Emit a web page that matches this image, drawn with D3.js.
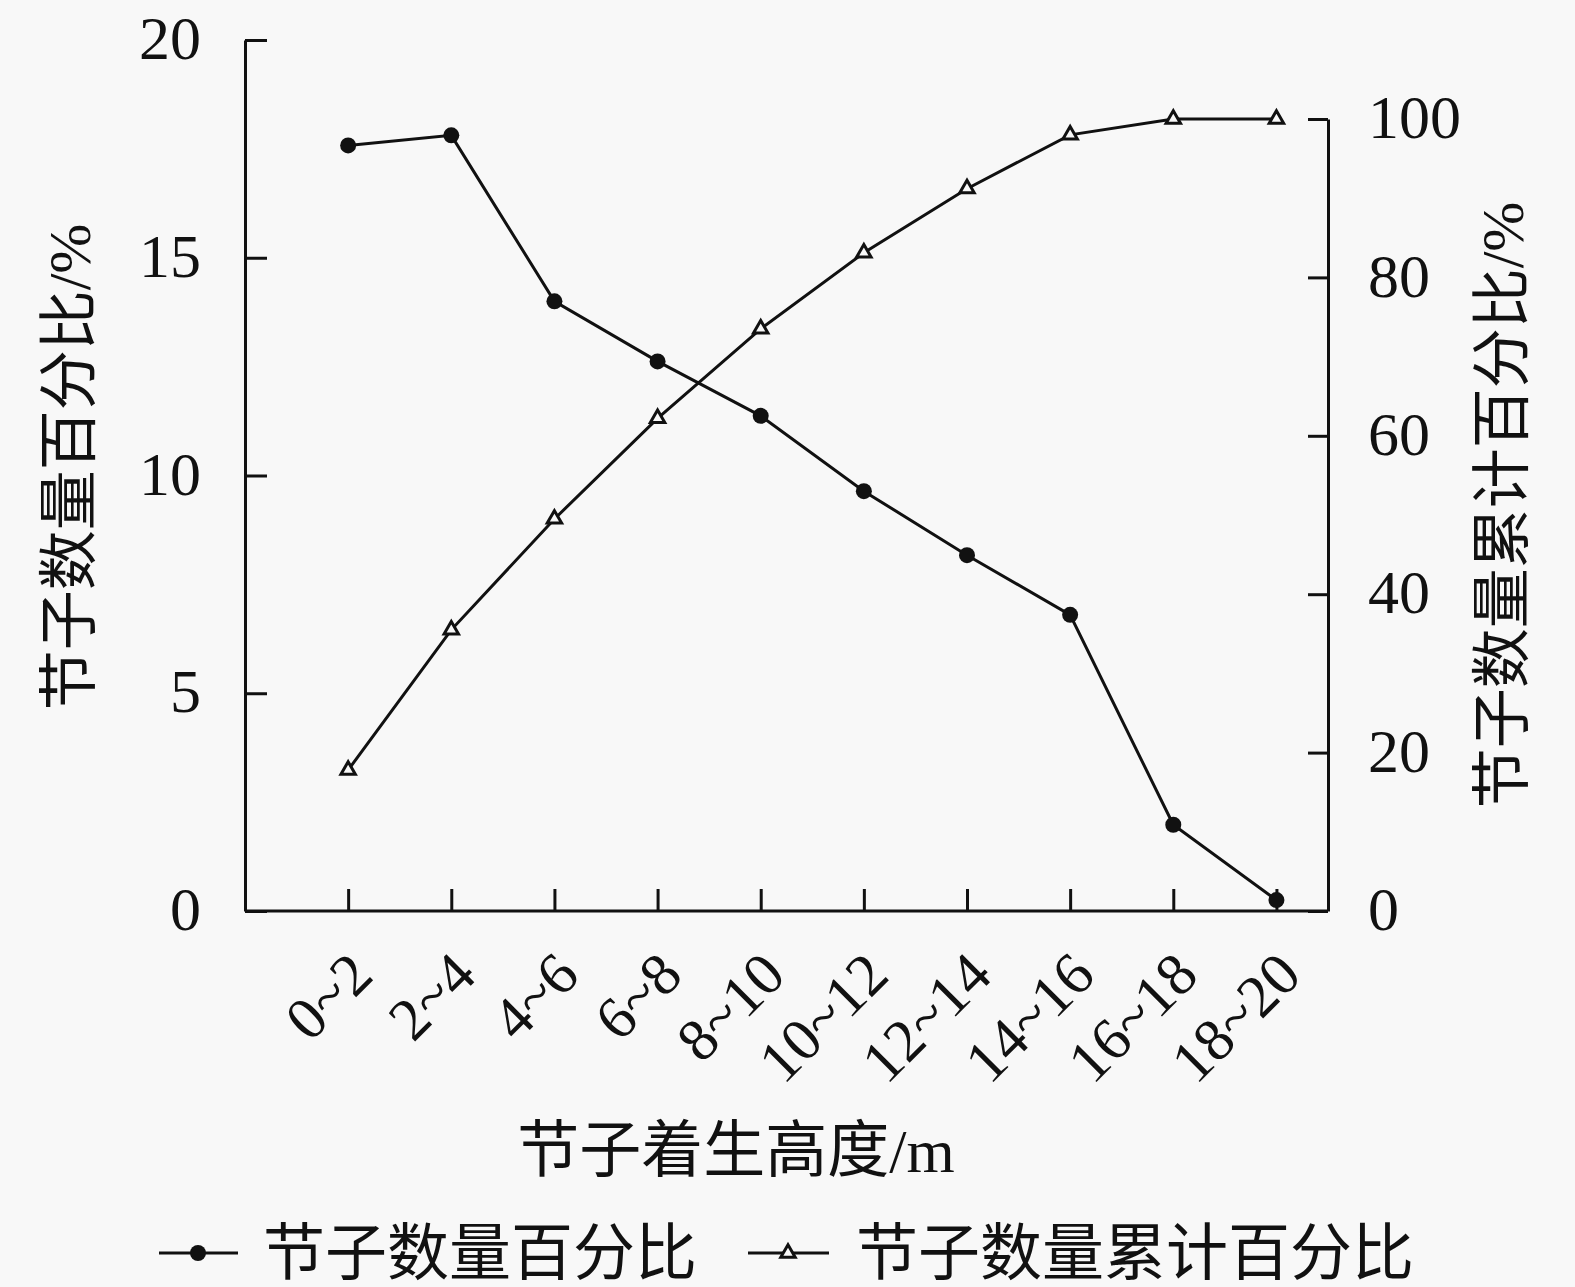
<!DOCTYPE html>
<html>
<head>
<meta charset="utf-8">
<script src="https://cdn.jsdelivr.net/npm/d3@7"></script>
<style>
  body { margin: 0; background: #f8f8f8; }
  svg { display: block; }
</style>
</head>
<body>
<div id="chart"></div>
<script>
const categories = ["0~2", "2~4", "4~6", "6~8", "8~10", "10~12", "12~14", "14~16", "16~18", "18~20"];
const percent = [17.58, 17.81, 14.0, 12.62, 11.37, 9.64, 8.17, 6.8, 1.98, 0.25];
const cumulative = [17.8, 35.5, 49.5, 62.2, 73.5, 83.1, 91.2, 98.0, 100, 100];
const leftTicks = [0, 5, 10, 15, 20];
const rightTicks = [0, 20, 40, 60, 80, 100];

const W = 1575, H = 1287;
const left = 245, right = 1328, bottom = 911;
const font = '"Liberation Serif", "Noto Sans CJK SC", serif';

const svg = d3.select("#chart").append("svg")
    .attr("width", W)
    .attr("height", H)
    .attr("font-family", font);

svg.append("rect").attr("width", W).attr("height", H).attr("fill", "#f8f8f8");

const x = d3.scaleLinear().domain([-1, 9.5]).range([left, right]);
const yL = d3.scaleLinear().domain([0, 20]).range([bottom, 40]);
const yR = d3.scaleLinear().domain([0, 100]).range([bottom, 119]);

// axes
const axisStyle = g => {
    g.attr("font-family", font).attr("font-size", 62);
    g.select(".domain").attr("stroke", "#111").attr("stroke-width", 3);
    g.selectAll(".tick line").attr("stroke", "#111").attr("stroke-width", 3);
    g.selectAll(".tick text").attr("fill", "#111");
};

svg.append("g")
    .attr("transform", `translate(${left},0)`)
    .call(d3.axisRight(yL).tickValues(leftTicks).tickSize(22).tickSizeOuter(0).tickFormat(d3.format("d")))
    .call(axisStyle)
    .call(g => g.selectAll(".tick text").attr("x", -44).attr("text-anchor", "end").attr("dy", "0.3em"));

svg.append("g")
    .attr("transform", `translate(${right},0)`)
    .call(d3.axisLeft(yR).tickValues(rightTicks).tickSize(20).tickSizeOuter(0).tickFormat(d3.format("d")))
    .call(axisStyle)
    .call(g => g.selectAll(".tick text").attr("x", 40).attr("text-anchor", "start").attr("dy", "0.3em"));

svg.append("g")
    .attr("transform", `translate(0,${bottom})`)
    .call(d3.axisTop(x).tickValues(d3.range(categories.length)).tickSize(22).tickSizeOuter(0).tickFormat(i => categories[i]))
    .call(axisStyle)
    .call(g => g.select(".domain").attr("d", `M${left},0H${right}`))
    .call(g => g.selectAll(".tick text")
        .attr("font-size", 60)
        .attr("text-anchor", "end")
        .attr("transform", "translate(12,52) rotate(-45)")
        .attr("x", 0).attr("y", 0).attr("dy", "0.35em"));

// lines
const line1 = d3.line().x((d, i) => x(i)).y(d => yL(d));
const line2 = d3.line().x((d, i) => x(i)).y(d => yR(d));

svg.append("path").datum(percent)
    .attr("d", line1).attr("fill", "none").attr("stroke", "#111").attr("stroke-width", 3);
svg.append("path").datum(cumulative)
    .attr("d", line2).attr("fill", "none").attr("stroke", "#111").attr("stroke-width", 3);

svg.selectAll(".dot").data(percent).enter().append("circle")
    .attr("class", "dot")
    .attr("cx", (d, i) => x(i))
    .attr("cy", d => yL(d))
    .attr("r", 8)
    .attr("fill", "#111");

const tri = d3.symbol().type(d3.symbolTriangle).size(90);
svg.selectAll(".tri").data(cumulative).enter().append("path")
    .attr("class", "tri")
    .attr("d", tri)
    .attr("transform", (d, i) => `translate(${x(i)},${yR(d)})`)
    .attr("fill", "#f8f8f8")
    .attr("stroke", "#111")
    .attr("stroke-width", 3);

// axis titles
svg.append("text")
    .attr("transform", "translate(90,467) rotate(-90)")
    .attr("text-anchor", "middle")
    .attr("font-size", 60)
    .attr("fill", "#111")
    .text("节子数量百分比/%");

svg.append("text")
    .attr("transform", "translate(1523,505) rotate(-90)")
    .attr("text-anchor", "middle")
    .attr("font-size", 60)
    .attr("fill", "#111")
    .text("节子数量累计百分比/%");

svg.append("text")
    .attr("x", 736)
    .attr("y", 1172)
    .attr("text-anchor", "middle")
    .attr("font-size", 62)
    .attr("fill", "#111")
    .text("节子着生高度/m");

// legend
const legend = svg.append("g").attr("transform", "translate(0,1253)");
const l1 = legend.append("g").attr("transform", "translate(159,0)");
l1.append("line").attr("x1", 0).attr("x2", 79).attr("stroke", "#111").attr("stroke-width", 3);
l1.append("circle").attr("cx", 39).attr("r", 8).attr("fill", "#111");
l1.append("text").attr("x", 104).attr("dy", "0.35em").attr("font-size", 62).attr("fill", "#111").text("节子数量百分比");

const l2 = legend.append("g").attr("transform", "translate(748,0)");
l2.append("line").attr("x1", 0).attr("x2", 81).attr("stroke", "#111").attr("stroke-width", 3);
l2.append("path").attr("d", tri).attr("transform", "translate(40,0)")
    .attr("fill", "#f8f8f8").attr("stroke", "#111").attr("stroke-width", 3);
l2.append("text").attr("x", 108).attr("dy", "0.35em").attr("font-size", 62).attr("fill", "#111").text("节子数量累计百分比");
</script>
</body>
</html>
